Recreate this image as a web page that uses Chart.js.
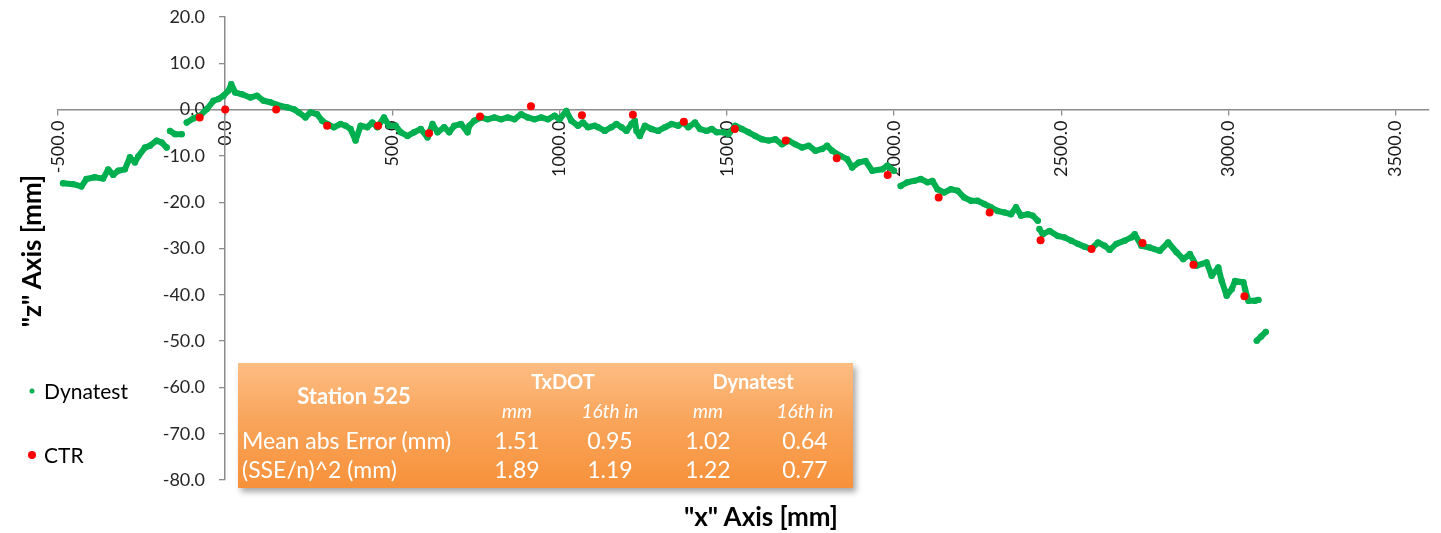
<!DOCTYPE html>
<html>
<head>
<meta charset="utf-8">
<script src="https://cdn.jsdelivr.net/npm/chart.js@4.4.1/dist/chart.umd.min.js"></script>
<style>
  html, body { margin: 0; padding: 0; background: #fff; }
  #wrap { position: relative; width: 1441px; height: 533px; font-family: Lato, 'Open Sans', sans-serif; color: #000; }
  #chart { position: absolute; left: 0; top: 0; }
  .ytitle { position: absolute; left: 31px; top: 251px; transform: translate(-50%, -50%) rotate(-90deg);
            font-weight: bold; font-size: 26px; white-space: nowrap; }
  .xtitle { position: absolute; left: 761px; top: 516px; transform: translate(-50%, -50%);
            font-weight: bold; font-size: 26px; white-space: nowrap; }
  .leg { position: absolute; left: 44px; font-size: 21px; transform: translateY(-50%); white-space: nowrap; }
  .dot { position: absolute; border-radius: 50%; transform: translate(-50%, -50%); }
  #stats { position: absolute; left: 238px; top: 363px; width: 615px; height: 125px;
           background: linear-gradient(#fdbd83, #f9a55c 45%, #f7913a);
           box-shadow: 3px 4px 6px rgba(0,0,0,0.35); color: #fff; }
  #stats table { border-collapse: collapse; position: absolute; left: 0; top: 3px; table-layout: fixed; }
  #stats td { padding: 0; text-align: center; white-space: nowrap; }
  #stats .h { font-weight: bold; font-size: 20px; }
  #stats .st { font-weight: bold; font-size: 22px; }
  #stats .u { font-style: italic; font-size: 19px; }
  #stats .v { font-size: 23px; }
  #stats .lbl { text-align: left; padding-left: 4px; font-size: 23px; }
</style>
</head>
<body>
<div id="wrap">
  <canvas id="chart" width="1441" height="533"></canvas>
  <div class="ytitle">"z" Axis [mm]</div>
  <div class="xtitle">"x" Axis [mm]</div>
  <div class="dot" style="left:32px;top:391px;width:5px;height:5px;background:#00b050"></div>
  <div class="leg" style="top:390px">Dynatest</div>
  <div class="dot" style="left:32px;top:455px;width:8px;height:8px;background:#ff0000"></div>
  <div class="leg" style="top:454px">CTR</div>
  <div id="stats">
    <table>
      <colgroup><col style="width:232px"><col style="width:94px"><col style="width:92px"><col style="width:104px"><col style="width:90px"></colgroup>
      <tr style="height:30px"><td class="st" rowspan="2">Station 525</td><td class="h" colspan="2">TxDOT</td><td class="h" colspan="2">Dynatest</td></tr>
      <tr style="height:29px"><td class="u">mm</td><td class="u">16th in</td><td class="u">mm</td><td class="u">16th in</td></tr>
      <tr style="height:29px"><td class="lbl">Mean abs Error (mm)</td><td class="v">1.51</td><td class="v">0.95</td><td class="v">1.02</td><td class="v">0.64</td></tr>
      <tr style="height:30px"><td class="lbl">(SSE/n)^2 (mm)</td><td class="v">1.89</td><td class="v">1.19</td><td class="v">1.22</td><td class="v">0.77</td></tr>
    </table>
  </div>
</div>
<script>
// Dynatest profile (null = break in the trace)
const dynX = [
  -485, -455, -430, -415, -390, -365, -350, -335, -320, -300, -285, -270, -260, -240, -225, -205, -190, -175, null,
  -165, -150, -130, null,
  -115, -95, -75, -55, -35, -20, -5, 10, 18, 30, 50, 75, 95, 115, 135, 165, 185, 205, 220, 240, 255, 275, 290,
  305, 325, 345, 360, 375, 390, 405, 425, 440, 455, 475, 490, 510, 525, 545, 565, 585, 605, 620, 635, 655, 670,
  685, 705, 725, 730, 745, 765, 785, 805, 825, 845, 865, 885, 905, 925, 945, 965, 985, 1000, 1020, 1035, 1055,
  1070, 1085, 1105, 1115, 1135, 1155, 1170, 1185, 1200, 1215, 1225, 1230, 1240, 1255, 1275, 1295, 1315, 1335,
  1355, 1370, 1385, 1405, 1420, 1440, 1455, 1470, 1490, 1505, 1525, 1545, 1565, 1585, 1605, 1625, 1645, 1665,
  1685, 1705, 1725, 1745, 1765, 1785, 1800, 1815, 1840, 1860, 1875, 1895, 1915, 1935, 1965, 1980, 2000, null,
  2020, 2040, 2060, 2080, 2100, 2115, 2130, 2150, 2170, 2190, 2210, 2230, 2250, 2270, 2290, 2310, 2330, 2350,
  2365, 2380, 2400, 2415, 2430, null,
  2435, 2445, 2465, 2490, 2510, 2530, 2550, 2570, 2590, 2610, 2630, 2645, 2665, 2690, 2710, 2720, 2740, 2765,
  2795, 2820, 2845, 2865, 2885, 2905, 2935, 2950, 2970, 2980, 2995, 3010, 3020, 3045, 3050, 3060, 3080, 3090, null,
  3085, 3098, 3112
];
const dynZ = [
  -15.9, -16.1, -16.6, -15.0, -14.6, -14.9, -12.9, -14.1, -13.2, -12.9, -10.3, -11.4, -10.1, -8.2, -7.8, -6.7, -7.1, -8.2, null,
  -4.6, -5.3, -5.3, null,
  -2.8, -1.9, -1.3, 0.1, 1.9, 2.3, 3.0, 4.1, 5.5, 3.7, 3.3, 2.6, 3.0, 1.9, 1.6, 0.8, 0.5, 0.1, -0.6, -1.7, -0.6, -1.0, -2.4,
  -3.1, -3.8, -3.1, -3.5, -4.2, -6.7, -3.5, -3.8, -2.8, -3.8, -1.7, -3.5, -3.5, -4.9, -5.7, -4.9, -4.2, -6.0, -3.1, -4.9, -3.8, -4.9,
  -3.5, -3.1, -4.9, -3.5, -2.4, -1.7, -2.1, -1.7, -2.1, -1.7, -2.1, -1.0, -1.7, -2.1, -1.7, -2.1, -1.3, -2.1, -0.3, -2.4, -3.5,
  -2.8, -3.8, -3.5, -3.8, -4.6, -3.8, -3.1, -3.8, -4.6, -3.1, -2.4, -4.6, -5.7, -3.5, -4.2, -4.6, -3.8, -3.1,
  -3.5, -2.8, -3.8, -2.8, -4.2, -4.6, -4.2, -4.9, -4.9, -5.3, -3.5, -4.2, -4.9, -5.7, -6.4, -6.7, -6.4, -7.5,
  -6.7, -7.5, -8.2, -7.8, -8.9, -8.5, -7.8, -8.9, -10.0, -10.7, -12.5, -11.4, -11.1, -13.2, -12.9, -12.1, -13.2, null,
  -16.5, -15.7, -15.4, -15.0, -15.7, -15.4, -17.2, -17.9, -17.2, -17.5, -19.0, -19.7, -19.7, -20.4, -21.1, -21.9, -22.2, -22.6,
  -21.1, -22.9, -22.6, -22.9, -24.0, null,
  -25.8, -26.9, -26.2, -27.3, -27.6, -28.3, -29.0, -29.6, -30.1, -28.7, -29.4, -30.3, -29.0, -28.3, -27.6, -26.9, -29.4, -29.8,
  -30.5, -28.7, -30.8, -32.3, -31.2, -33.7, -33.0, -35.9, -34.1, -37.0, -40.2, -38.8, -37.0, -37.3, -38.8, -41.3, -41.3, -41.1, null,
  -49.9, -49.0, -48.0
];

// CTR readings
const ctrX = [-76.2, 0, 152.4, 304.8, 457.2, 609.6, 762, 914.4, 1066.8, 1219.2, 1371.6, 1524,
              1676.4, 1828.8, 1981.2, 2133.6, 2286, 2438.4, 2590.8, 2743.2, 2895.6, 3048];
const ctrZ = [-1.7, 0, 0, -3.5, -3.5, -5.1, -1.5, 0.7, -1.2, -1.1, -2.6, -4.2,
              -6.7, -10.5, -14.1, -19.0, -22.2, -28.2, -30.1, -28.8, -33.5, -40.3];

const xTicks = [-500, 0, 500, 1000, 1500, 2000, 2500, 3000, 3500];
const zTicks = [20, 10, 0, -10, -20, -30, -40, -50, -60, -70, -80];

const AXIS = '#8c8c8c';
const FONT = { family: "Lato, 'Open Sans', sans-serif", size: 18 };

new Chart(document.getElementById('chart'), {
  type: 'scatter',
  data: {
    datasets: [
      {
        label: 'Dynatest',
        data: dynX.map((x, i) => ({ x: x, y: dynZ[i] })),
        showLine: true,
        spanGaps: false,
        borderColor: '#00b050',
        backgroundColor: '#00b050',
        borderWidth: 6,
        borderJoinStyle: 'round',
        borderCapStyle: 'round',
        pointRadius: 3.2,
        pointBorderWidth: 0,
        order: 2,
      },
      {
        label: 'CTR',
        data: ctrX.map((x, i) => ({ x: x, y: ctrZ[i] })),
        borderColor: '#ff0000',
        backgroundColor: '#ff0000',
        pointRadius: 4,
        pointBorderWidth: 0,
        order: 1,
      },
    ],
  },
  options: {
    responsive: false,
    animation: false,
    layout: { padding: { left: 58, right: 12, top: 17, bottom: 53 } },
    plugins: { legend: { display: false }, tooltip: { enabled: false } },
    scales: {
      x: {
        type: 'linear',
        position: { y: 0 },
        min: -500,
        max: 3600,
        afterFit: s => { s.height = 0; },
        afterBuildTicks: s => { s.ticks = xTicks.map(v => ({ value: v })); },
        grid: { drawOnChartArea: false, drawTicks: true, tickLength: 5, color: AXIS, lineWidth: 1.3 },
        border: { color: AXIS, width: 1.5 },
        ticks: { minRotation: 90, maxRotation: 90, padding: 6, color: '#1a1a1a', font: FONT,
                 callback: v => Number(v).toFixed(1) },
      },
      y: {
        type: 'linear',
        position: { x: 0 },
        min: -80,
        max: 20,
        afterFit: s => { s.width = 0; },
        afterBuildTicks: s => { s.ticks = zTicks.map(v => ({ value: v })); },
        grid: { drawOnChartArea: false, drawTicks: true, tickLength: 5, color: AXIS, lineWidth: 1.3 },
        border: { color: AXIS, width: 1.5 },
        // labels anchor on the axis line itself, so pad them with trailing spaces
        ticks: { color: '#262626', font: FONT,
                 callback: v => Number(v).toFixed(1) + '\u2002\u2002\u2009' },
      },
    },
  },
});
</script>
</body>
</html>
